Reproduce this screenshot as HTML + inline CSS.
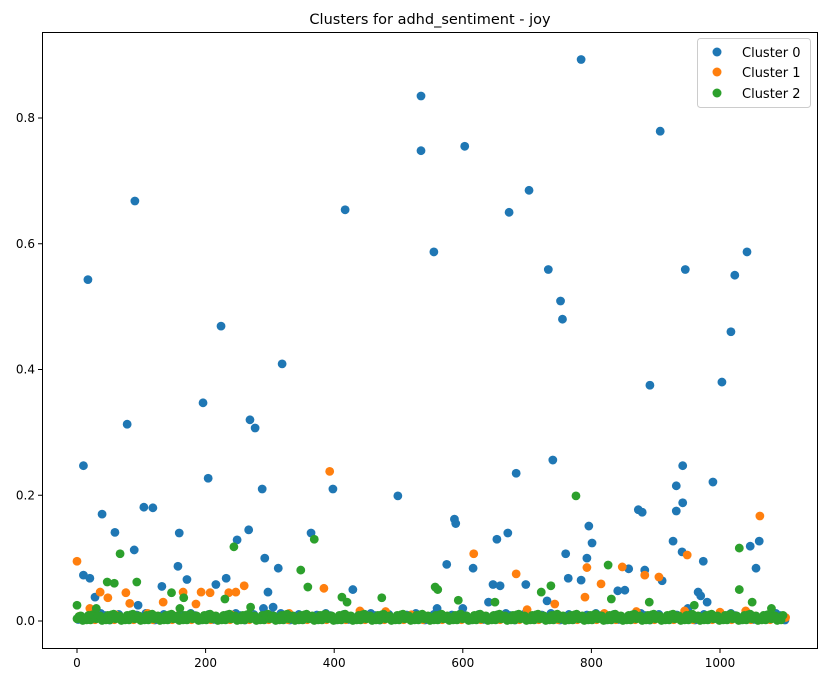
<!DOCTYPE html>
<html><head><meta charset="utf-8"><style>
body{margin:0;background:#fff;}
svg{display:block;font-family:"DejaVu Sans","Liberation Sans",sans-serif;}
</style></head><body>
<svg id="chart" width="826" height="682" viewBox="0 0 826 682">
<rect width="826" height="682" fill="#fff"/>
<text x="430" y="24" text-anchor="middle" font-size="14.5">Clusters for adhd_sentiment - joy</text>
<g id="marks"></g>
<g id="axes"></g>
<g>
<rect x="697.5" y="38.5" width="113" height="69" rx="3" fill="#fff" fill-opacity="0.8" stroke="#ccc"/>
<circle cx="717" cy="52" r="4.5" fill="#1f77b4"/><text x="742" y="57" font-size="13">Cluster 0</text>
<circle cx="717" cy="72" r="4.5" fill="#ff7f0e"/><text x="742" y="77" font-size="13">Cluster 1</text>
<circle cx="717" cy="93" r="4.5" fill="#2ca02c"/><text x="742" y="98" font-size="13">Cluster 2</text>
</g>
</svg>
<script>
const xTicks=[0,200,400,600,800,1000];
const yTicks=[0,0.2,0.4,0.6,0.8];
const yTickLabels=["0.0","0.2","0.4","0.6","0.8"];
const cluster0=[[10,0.247],[10,0.073],[17,0.543],[20,0.068],[28,0.038],[39,0.170],[59,0.141],[78,0.313],[90,0.668],[89,0.113],[104,0.181],[118,0.180],[132,0.055],[159,0.140],[157,0.087],[171,0.066],[196,0.347],[204,0.227],[216,0.058],[224,0.469],[232,0.068],[249,0.129],[267,0.145],[269,0.320],[277,0.307],[288,0.210],[292,0.100],[297,0.046],[313,0.084],[319,0.409],[398,0.210],[417,0.654],[364,0.140],[429,0.050],[535,0.835],[535,0.748],[555,0.587],[603,0.755],[499,0.199],[575,0.090],[587,0.162],[589,0.155],[616,0.084],[653,0.130],[647,0.058],[658,0.056],[670,0.140],[672,0.650],[683,0.235],[703,0.685],[698,0.058],[733,0.559],[740,0.256],[731,0.032],[752,0.509],[755,0.480],[760,0.107],[764,0.068],[784,0.065],[784,0.893],[793,0.100],[796,0.151],[801,0.124],[841,0.048],[852,0.049],[858,0.083],[873,0.177],[879,0.173],[883,0.081],[891,0.375],[907,0.779],[910,0.064],[927,0.127],[932,0.215],[932,0.175],[941,0.110],[942,0.247],[946,0.559],[942,0.188],[974,0.095],[966,0.046],[989,0.221],[1003,0.380],[1017,0.460],[1023,0.550],[1042,0.587],[1047,0.119],[1056,0.084],[1061,0.127],[95,0.025],[290,0.02],[305,0.022],[560,0.02],[600,0.02],[640,0.03],[950,0.02],[970,0.04],[980,0.03]];
const cluster1=[[0,0.095],[20,0.020],[36,0.046],[48,0.037],[76,0.045],[82,0.028],[134,0.030],[165,0.046],[185,0.027],[193,0.046],[207,0.045],[236,0.045],[247,0.046],[260,0.056],[384,0.052],[393,0.238],[440,0.016],[617,0.107],[683,0.075],[743,0.027],[793,0.085],[790,0.038],[815,0.059],[848,0.086],[883,0.073],[905,0.070],[949,0.105],[945,0.016],[1062,0.167],[1062,0.005],[60,0.01],[110,0.012],[240,0.01],[330,0.012],[480,0.015],[520,0.01],[700,0.018],[820,0.012],[870,0.015],[1000,0.014],[1040,0.016]];
const cluster2=[[0,0.025],[47,0.062],[67,0.107],[58,0.060],[93,0.062],[147,0.045],[166,0.037],[244,0.118],[348,0.081],[359,0.054],[369,0.130],[412,0.038],[474,0.037],[557,0.054],[561,0.050],[593,0.033],[722,0.046],[737,0.056],[776,0.199],[826,0.089],[831,0.035],[1030,0.116],[1030,0.050],[30,0.02],[160,0.02],[230,0.035],[270,0.022],[420,0.03],[650,0.03],[890,0.03],[960,0.025],[1050,0.03],[1080,0.02]];
const greenLowY=[0.004,0.010,0.002,0.008,0.014,0.003,0.009,0.006,0.012,0.001,0.007,0.011,0.003,0.005,0.013,0.002,0.008,0.004,0.010,0.006,0.015,0.002,0.009,0.005,0.011,0.003,0.007,0.012,0.001,0.008];
const marks=document.getElementById('marks');
const NS='http://www.w3.org/2000/svg';
function xs(v){return 77+v*0.643;}
function ys(v){return 621-v*628.75;}
function dot(x,y,c,name){const e=document.createElementNS(NS,'circle');
e.setAttribute('cx',xs(x));e.setAttribute('cy',ys(y));e.setAttribute('r',4.4);e.setAttribute('fill',c);


marks.appendChild(e);}
for(let i=0;i<1100;i+=7){dot(i+2,greenLowY[(i*3+5)%greenLowY.length]*0.8,'#1f77b4','cluster-0-point');}
cluster0.forEach(p=>dot(p[0],p[1],'#1f77b4','cluster-0-point'));
for(let i=0;i<1100;i+=6){dot(i+4,greenLowY[(i+11)%greenLowY.length]*0.7,'#ff7f0e','cluster-1-point');}
cluster1.forEach(p=>dot(p[0],p[1],'#ff7f0e','cluster-1-point'));
for(let i=0;i<1100;i+=3){dot(i,greenLowY[i%greenLowY.length]*0.9,'#2ca02c','cluster-2-point');}
cluster2.forEach(p=>dot(p[0],p[1],'#2ca02c','cluster-2-point'));
const ax=document.getElementById('axes');
let h='<rect x="42.5" y="32.5" width="775" height="616" fill="none" stroke="#000" stroke-width="1"/>';
xTicks.forEach(t=>{const x=xs(t);h+=`<line x1="${x}" x2="${x}" y1="649" y2="653" stroke="#000"/><text x="${x}" y="667" font-size="12" text-anchor="middle">${t}</text>`;});
yTicks.forEach((t,i)=>{const y=ys(t);h+=`<line x1="38" x2="42" y1="${y}" y2="${y}" stroke="#000"/><text x="35" y="${y+4}" font-size="12" text-anchor="end">${yTickLabels[i]}</text>`;});
ax.innerHTML=h;
</script>
</body></html>
